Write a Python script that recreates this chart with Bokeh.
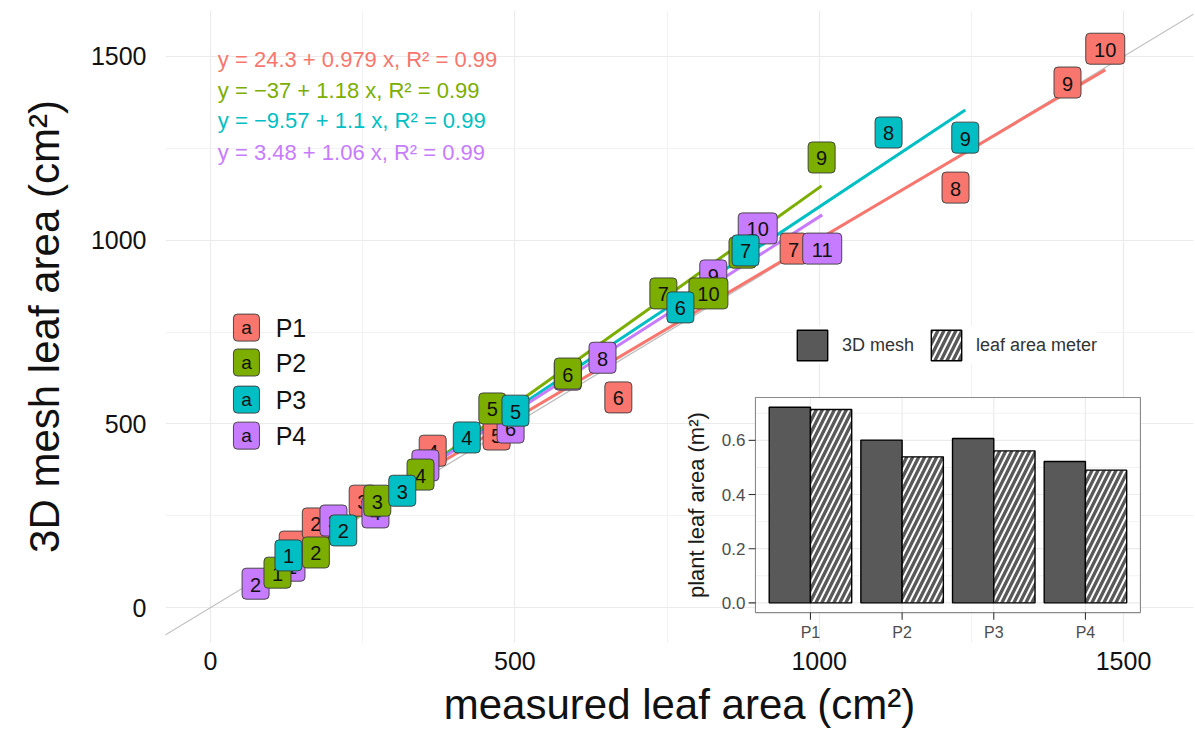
import numpy as np
from bokeh.plotting import figure
from bokeh.models import ColumnDataSource, Range1d, FixedTicker, Legend, LegendItem, Slope
from bokeh.core.properties import value
from bokeh.embed import file_html
from bokeh.resources import INLINE

FONT = "Liberation Sans"

# ---------------------------------------------------------------- data
groups = ["P1", "P2", "P3", "P4"]
group_colors = ["#F8766D", "#7CAE00", "#00BFC4", "#C77CFF"]

# measured (leaf area meter) vs reconstructed (3D mesh) leaf area per leaf, cm^2
p1_leaf = [1, 2, 3, 4, 5, 6, 7, 8, 9, 10]
p1_measured = [135, 173, 250, 365, 470, 670, 958, 1224, 1408, 1470]
p1_mesh = [166, 229, 291, 427, 471, 572, 977, 1143, 1429, 1521]

p2_leaf = [1, 2, 3, 4, 5, 6, 7, 8, 9, 10]
p2_measured = [110, 173, 274, 345, 463, 587, 744, 874, 1004, 818]
p2_mesh = [95, 150, 291, 362, 542, 637, 855, 966, 1225, 855]

p3_leaf = [1, 2, 3, 4, 5, 6, 7, 8, 9]
p3_measured = [128, 218, 315, 421, 501, 772, 879, 1114, 1240]
p3_mesh = [142, 210, 318, 463, 536, 817, 972, 1293, 1279]

p4_leaf = [1, 2, 3, 4, 5, 6, 7, 8, 9, 10, 11]
p4_measured = [133, 74, 202, 271, 353, 493, 587, 644, 826, 899, 1005]
p4_mesh = [114, 65, 237, 259, 387, 490, 634, 680, 904, 1032, 977]

# linear fits: mesh = intercept + slope * measured
fit_intercept = [24.3, -37, -9.57, 3.48]
fit_slope = [0.979, 1.18, 1.1, 1.06]
fit_r2 = [0.99, 0.99, 0.99, 0.99]

# whole-plant leaf area, m^2
plants = ["P1", "P2", "P3", "P4"]
plant_mesh = [0.722, 0.601, 0.607, 0.522]
plant_meter = [0.714, 0.539, 0.561, 0.490]

main_ticks = [0, 500, 1000, 1500]
main_minor = [-250, 250, 750, 1250, 1750]
inset_yticks = [0.0, 0.2, 0.4, 0.6]
inset_yminor = [0.1, 0.3, 0.5, 0.7]

series = [
    (p1_leaf, p1_measured, p1_mesh),
    (p2_leaf, p2_measured, p2_mesh),
    (p3_leaf, p3_measured, p3_mesh),
    (p4_leaf, p4_measured, p4_mesh),
]

# ---------------------------------------------------------------- figure
p = figure(
    width=1195, height=735,
    x_range=Range1d(-74, 1615), y_range=Range1d(-95, 1625),
    output_backend="svg", toolbar_location=None,
    min_border_left=165, min_border_right=2, min_border_top=10, min_border_bottom=93,
)
p.outline_line_color = None
p.background_fill_color = "white"

for ax, label in ((p.xaxis[0], "measured leaf area (cm²)"), (p.yaxis[0], "3D mesh leaf area (cm²)")):
    ax.ticker = FixedTicker(ticks=main_ticks, minor_ticks=main_minor)
    ax.axis_label = label
    ax.axis_line_color = None
    ax.major_tick_line_color = None
    ax.minor_tick_line_color = None
    ax.major_label_text_font = FONT
    ax.major_label_text_font_size = "25px"
    ax.major_label_text_color = "#111111"
    ax.axis_label_text_font = FONT
    ax.axis_label_text_font_size = "42px"
    ax.axis_label_text_font_style = "normal"
    ax.axis_label_text_color = "#111111"
p.xaxis.major_label_standoff = 3
p.xaxis.axis_label_standoff = 8
p.yaxis.major_label_standoff = 13
p.yaxis.axis_label_standoff = 20

for g in (p.xgrid[0], p.ygrid[0]):
    g.ticker = FixedTicker(ticks=main_ticks, minor_ticks=main_minor)
    g.grid_line_color = "#EBEBEB"
    g.grid_line_width = 1.2
    g.minor_grid_line_color = "#F1F1F1"
    g.minor_grid_line_width = 0.9

# 1:1 reference line
p.add_layout(Slope(gradient=1, y_intercept=0, line_color="#BDBDBD", line_width=1.2, level="underlay"))

# regression lines over each plant's measured range
for (leaf, meas, mesh), a, b, col in zip(series, fit_intercept, fit_slope, group_colors):
    xs = np.array([min(meas), max(meas)], dtype=float)
    p.line(xs, a + b * xs, line_color=col, line_width=3)

# numbered leaf labels (drawn so that P3 ends up on top)
for idx in (0, 3, 1, 2):
    leaf, meas, mesh = series[idx]
    labs = [str(v) for v in leaf]
    src = ColumnDataSource(dict(x=meas, y=mesh, lab=labs, w=[27 if len(s) == 1 else 39 for s in labs]))
    p.rect(x="x", y="y", width="w", height=31, width_units="screen", height_units="screen",
           source=src, fill_color=group_colors[idx], line_color="#3a3a3a", line_width=0.9,
           border_radius=4)
    p.text(x="x", y="y", text="lab", source=src, text_align="center", text_baseline="middle",
           text_font=value(FONT), text_font_size="20px", text_color="#111111", y_offset=1)

# fit equations
eq_x = 12
eq_y = [1491, 1407, 1326, 1238]
for a, b, r2, col, yy in zip(fit_intercept, fit_slope, fit_r2, group_colors, eq_y):
    a_txt = f"{a:g}".replace("-", "−")
    txt = f"y = {a_txt} + {b:g} x,  R² = {r2:g}"
    p.text(x=[eq_x], y=[yy], text=[txt], text_align="left", text_baseline="middle",
           text_font=value(FONT), text_font_size="22px", text_color=col)

# group legend (boxed "a" keys)
leg_x_key, leg_x_txt = 59, 107
leg_y = [762, 667, 566, 468]
p.rect(x=[leg_x_key] * 4, y=leg_y, width=26, height=27, width_units="screen", height_units="screen",
       fill_color=group_colors, line_color="#3a3a3a", line_width=0.9, border_radius=4)
p.text(x=[leg_x_key] * 4, y=leg_y, text=["a"] * 4, text_align="center", text_baseline="middle",
       text_font=value(FONT), text_font_size="19px", text_color="#111111")
p.text(x=[leg_x_txt] * 4, y=leg_y, text=groups, text_align="left", text_baseline="middle",
       text_font=value(FONT), text_font_size="25px", text_color="#111111")

# ---------------------------------------------------------------- inset bar chart
IX0, IX1, IY0, IY1 = 0.4, 4.6, -0.036, 0.758
inset = p.subplot(
    x_source=Range1d(IX0, IX1), y_source=Range1d(IY0, IY1),
    x_target=Range1d(895.3, 1527.8), y_target=Range1d(-13.6, 571.6),
)
pos = np.arange(1, len(plants) + 1, dtype=float)

inset.quad(left=[IX0], right=[IX1], bottom=[IY0], top=[IY1], fill_color="white", line_color=None)
inset.segment(x0=[IX0] * 4, x1=[IX1] * 4, y0=inset_yminor, y1=inset_yminor, line_color="#F2F2F2", line_width=0.9)
inset.segment(x0=[IX0] * 4, x1=[IX1] * 4, y0=inset_yticks, y1=inset_yticks, line_color="#EBEBEB", line_width=1.2)
inset.segment(x0=pos, x1=pos, y0=[IY0] * 4, y1=[IY1] * 4, line_color="#EBEBEB", line_width=1.2)

bar_src = ColumnDataSource(dict(mesh_x=pos - 0.225, meter_x=pos + 0.225, mesh=plant_mesh, meter=plant_meter))
mesh_r = inset.vbar(x="mesh_x", top="mesh", bottom=0, width=0.45, source=bar_src,
                    fill_color="#595959", line_color="black", line_width=1.4)
meter_r = inset.vbar(x="meter_x", top="meter", bottom=0, width=0.45, source=bar_src,
                     fill_color="#595959", line_color="black", line_width=1.4,
                     hatch_pattern="/", hatch_color="white", hatch_scale=12, hatch_weight=2)

inset.quad(left=[IX0], right=[IX1], bottom=[IY0], top=[IY1], fill_color=None,
           line_color="#8a8a8a", line_width=1.1)
# ticks
inset.segment(x0=[IX0 - 0.075] * 4, x1=[IX0] * 4, y0=inset_yticks, y1=inset_yticks,
              line_color="#333333", line_width=1.1)
inset.segment(x0=pos, x1=pos, y0=[IY0 - 0.026] * 4, y1=[IY0] * 4, line_color="#333333", line_width=1.1)
inset.text(x=[IX0] * 4, y=inset_yticks, text=[f"{v:.1f}" for v in inset_yticks], x_offset=-10,
           text_align="right", text_baseline="middle", text_font=value(FONT),
           text_font_size="17px", text_color="#4D4D4D")
inset.text(x=pos, y=[IY0] * 4, text=plants, y_offset=20, text_align="center", text_baseline="middle",
           text_font=value(FONT), text_font_size="16px", text_color="#4D4D4D")
inset.text(x=[IX0], y=[(IY0 + IY1) / 2], text=["plant leaf area (m²)"], x_offset=-59, angle=np.pi / 2,
           text_align="center", text_baseline="middle", text_font=value(FONT),
           text_font_size="22px", text_color="#1a1a1a")

legend = Legend(
    items=[LegendItem(label="3D mesh", renderers=[mesh_r]),
           LegendItem(label="leaf area meter", renderers=[meter_r])],
    orientation="horizontal", location=(628, 278),
    glyph_width=38, glyph_height=38, label_standoff=11, spacing=13, padding=12, margin=0,
    label_text_font=FONT, label_text_font_size="18px", label_text_color="#333333",
    background_fill_color="white", background_fill_alpha=1.0, border_line_color=None,
)
p.add_layout(legend)

open("out.html", "w").write(file_html(p, INLINE))
